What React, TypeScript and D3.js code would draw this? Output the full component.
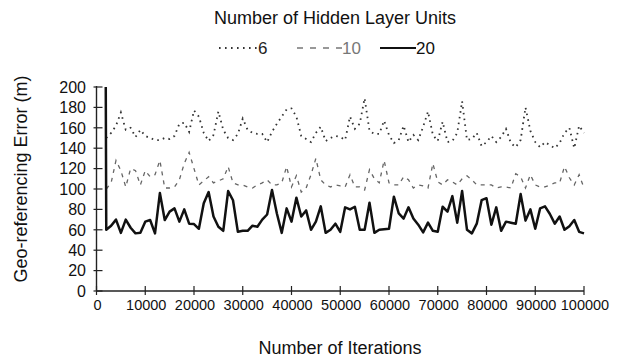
import React from "react";
import * as d3 from "d3";

const TITLE = "Number of Hidden Layer Units";
const X_TITLE = "Number of Iterations";
const Y_TITLE = "Geo-referencing Error (m)";

const SERIES_NAMES = ["6", "10", "20"];

// iterations 2000 .. 100000 every 1000
const ITER_START = 2000;
const ITER_END = 100000;
const ITER_STEP = 1000;

const units6 = [
  150, 155, 162, 175, 158, 160, 151, 158, 152, 150,
  148, 148, 150, 149, 152, 164, 165, 156, 177, 171,
  155, 147, 153, 176, 158, 150, 148, 154, 169, 158,
  155, 154, 154, 146, 156, 164, 171, 178, 179, 171,
  152, 149, 146, 155, 161, 147, 150, 152, 151, 148,
  171, 159, 164, 189, 157, 154, 154, 167, 153, 145,
  148, 162, 146, 153, 148, 161, 176, 153, 147, 166,
  146, 147, 155, 186, 148, 149, 155, 142, 146, 152,
  146, 151, 159, 145, 141, 148, 180, 157, 146, 141,
  146, 143, 140, 145, 155, 160, 140, 162, 155,
];

const units10 = [
  100, 106, 128, 118, 102, 120, 118, 104, 118, 112,
  114, 128, 101, 101, 102, 109, 125, 136, 120, 104,
  108, 112, 106, 108, 110, 122, 106, 104, 104, 102,
  101, 104, 106, 109, 104, 104, 106, 122, 102, 113,
  97, 101, 114, 130, 109, 104, 102, 104, 103, 102,
  114, 102, 102, 99, 119, 110, 106, 128, 106, 104,
  104, 112, 109, 101, 104, 103, 101, 125, 107, 104,
  109, 107, 104, 110, 113, 109, 104, 104, 104, 104,
  101, 102, 102, 101, 115, 112, 101, 114, 104, 102,
  102, 104, 106, 106, 122, 111, 104, 114, 101,
];

const units20 = [
  60, 64, 70, 57, 70, 62, 56.5, 57, 68, 69.6,
  56.5, 96, 69.6, 77.8, 81, 68, 80, 66, 65.6, 61,
  86, 97, 73, 63, 59, 98, 89, 58, 59, 59,
  64, 63, 70, 75, 99, 76, 57, 81, 68, 91.5,
  73, 79, 60, 68, 83, 57, 60, 66, 58, 82,
  80, 82.6, 60, 60, 86.6, 57, 60, 60.5, 61, 92.5,
  76, 71, 82, 71, 65, 57.5, 67, 59, 58, 82.6,
  77.8, 93, 67, 98, 60, 56.5, 66, 89, 91, 65,
  82, 59, 68, 67, 66, 95, 69, 80, 61, 81,
  83, 75.5, 66, 73, 60, 63.5, 69.6, 58, 56.5,
];

// the 20-unit run starts off the top of the scale just before 2000 iterations
const units20LeadIter = 1900;
const units20LeadValue = 200;

const X_TICKS = [0, 10000, 20000, 30000, 40000, 50000, 60000, 70000, 80000, 90000, 100000];
const Y_TICKS = [0, 20, 40, 60, 80, 100, 120, 140, 160, 180, 200];

const FONT = "'Liberation Sans', Arial, Helvetica, sans-serif";

export default function App() {
  const W = 627;
  const H = 360;
  const x = d3.scaleLinear().domain([0, 100000]).range([96.5, 584]);
  const y = d3.scaleLinear().domain([0, 200]).range([291, 87]);

  const iters = d3.range(ITER_START, ITER_END + 1, ITER_STEP);

  type P = [number, number];
  const line = d3
    .line<P>()
    .x((d) => x(d[0]))
    .y((d) => y(d[1]));

  const pts6: P[] = iters.map((it, i) => [it, units6[i]]);
  const pts10: P[] = iters.map((it, i) => [it, units10[i]]);
  const pts20: P[] = [[units20LeadIter, units20LeadValue], ...iters.map((it, i) => [it, units20[i]] as P)];

  const axisColor = "#222";

  return (
    <svg
      width={W}
      height={H}
      style={{ position: "fixed", left: 0, top: 0, background: "#fff" }}
      fontFamily={FONT}
    >
      <rect x={0} y={0} width={W} height={H} fill="#fff" />
      {/* Title */}
      <text x={335} y={24} textAnchor="middle" fontSize={18} fill="#111">
        {TITLE}
      </text>

      {/* Legend */}
      <g>
        <line x1={219} x2={257} y1={48} y2={48} stroke="#333" strokeWidth={1.8} strokeDasharray="1.6,4.4" />
        <text x={258} y={54} fontSize={17} fill="#222">{SERIES_NAMES[0]}</text>
        <line x1={297} x2={342} y1={48} y2={48} stroke="#777" strokeWidth={1.4} strokeDasharray="6,7" />
        <text x={342} y={54} fontSize={17} fill="#777">{SERIES_NAMES[1]}</text>
        <line x1={380} x2={416} y1={48} y2={48} stroke="#111" strokeWidth={1.8} />
        <text x={416} y={54} fontSize={17} fill="#111">{SERIES_NAMES[2]}</text>
      </g>

      {/* Series */}
      <path d={line(pts6) || ""} fill="none" stroke="#333" strokeWidth={1.8} strokeDasharray="1.6,4.2" />
      <path d={line(pts10) || ""} fill="none" stroke="#666" strokeWidth={1.3} strokeDasharray="4,5" />
      <path d={line(pts20) || ""} fill="none" stroke="#111" strokeWidth={2.5} strokeLinejoin="round" />

      {/* Axes */}
      <line x1={x(0)} x2={x(0)} y1={y(200) - 1} y2={y(0)} stroke={axisColor} strokeWidth={1.4} />
      <line x1={x(0)} x2={x(100000)} y1={y(0)} y2={y(0)} stroke={axisColor} strokeWidth={1.4} />
      {Y_TICKS.map((t) => (
        <g key={"y" + t}>
          <line x1={x(0) - 3} x2={x(0) + 6} y1={y(t)} y2={y(t)} stroke={axisColor} strokeWidth={1.2} />
          <text x={86} y={y(t)} dy="0.36em" textAnchor="end" fontSize={16} fill="#111">
            {t}
          </text>
        </g>
      ))}
      {X_TICKS.map((t) => (
        <g key={"x" + t}>
          <line x1={x(t)} x2={x(t)} y1={y(0) - 5} y2={y(0) + 4} stroke={axisColor} strokeWidth={1.2} />
          <text x={x(t) + 1} y={310} textAnchor="middle" fontSize={14.5} fill="#111">
            {t}
          </text>
        </g>
      ))}

      {/* Axis titles */}
      <text x={340} y={354} textAnchor="middle" fontSize={18} fill="#111">
        {X_TITLE}
      </text>
      <text
        transform={`translate(27,179) rotate(-90)`}
        textAnchor="middle"
        fontSize={18}
        fill="#111"
      >
        {Y_TITLE}
      </text>
    </svg>
  );
}
